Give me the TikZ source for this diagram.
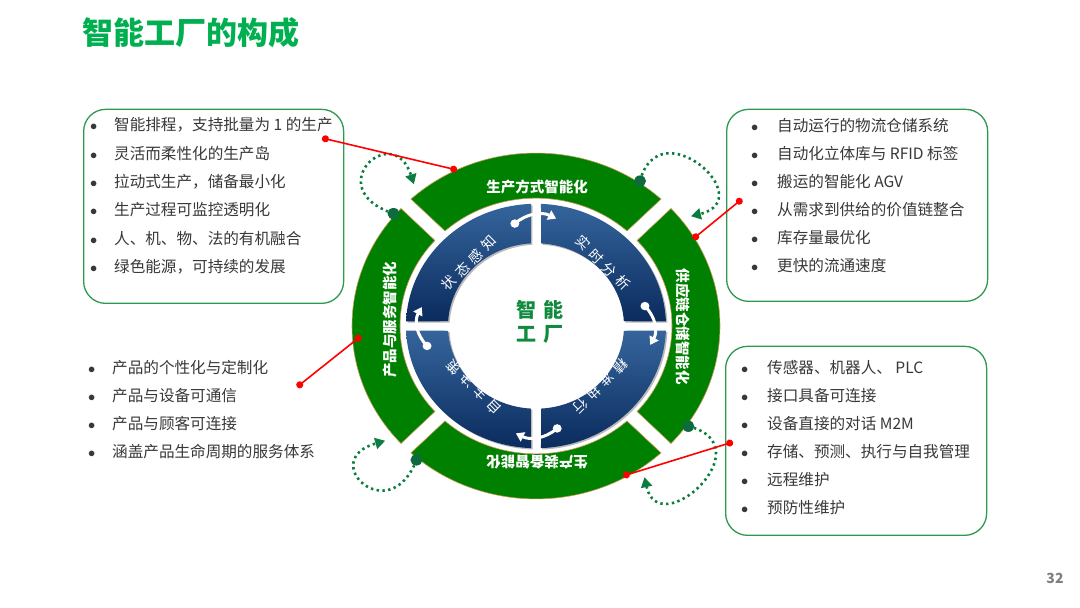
\documentclass[tikz,border=0pt]{standalone}
\usepackage{fontspec}
\setmainfont{Noto Sans CJK SC}
\usetikzlibrary{arrows.meta, calc}
\definecolor{titlegreen}{HTML}{00B050}
\definecolor{boxline}{HTML}{2E9950}
\definecolor{txtgray}{HTML}{383838}
\definecolor{ringgreen}{HTML}{008000}
\definecolor{ringedge}{HTML}{C89A5A}
\definecolor{bluetop}{HTML}{35659C}
\definecolor{bluebot}{HTML}{0A2B5E}
\definecolor{dotgreen}{HTML}{0B7D3E}
\definecolor{dotdark}{HTML}{0E6B40}
\definecolor{ctrgreen}{HTML}{108A3C}
\definecolor{pagegray}{HTML}{7F7F7F}
\newcommand\qsp{\hspace{5pt}}
\tikzset{
  card/.style    = {draw=boxline, line width=1.3pt, rounded corners=22pt,
                    anchor=south west, inner sep=0pt},
  item/.style    = {anchor=west, inner sep=0pt, text=txtgray,
                    font=\fontsize{15.6}{18}\selectfont},
  segtxt/.style  = {text=white, inner sep=0pt, font=\bfseries\fontsize{14.5}{16}\selectfont},
  quadtxt/.style = {text=white, inner sep=0pt, font=\fontsize{14}{16}\selectfont},
  cyc/.style     = {white, line width=3pt, -{Triangle[length=8pt, width=10pt]}},
  dotloop/.style = {dotgreen, line width=2.6pt, dash pattern=on 2.4pt off 3.4pt,
                    -{Triangle[length=10pt, width=11pt]}},
  redlink/.style = {red, line width=1.6pt, {Circle[length=7pt]}-{Circle[length=7pt]}},
}

\begin{document}
\begin{tikzpicture}[x=1pt, y=1pt]
\useasboundingbox[fill=white] (0,0) rectangle (1080,608);

% =========================================================================
% Titel
% =========================================================================
\node[anchor=west, inner sep=0pt, text=titlegreen,
      font=\bfseries\fontsize{31}{35}\selectfont] (title) at (82,575) {智能工厂的构成};

% =========================================================================
% Listen
% =========================================================================
\node[card, minimum width=260pt, minimum height=194pt] (tlbox) at (83,304) {};
\foreach \t [count=\i] in {智能排程，支持批量为 1 的生产, 灵活而柔性化的生产岛,
    拉动式生产，储备最小化, 生产过程可监控透明化, 人、机、物、法的有机融合,
    绿色能源，可持续的发展}
  \node[item] (tl\i) at (90, {483-28.3*(\i-1)}) {\makebox[24pt][l]{$\bullet$}\t};

\node[card, minimum width=261pt, minimum height=192pt] (trbox) at (726,306) {};
\foreach \t [count=\i] in {自动运行的物流仓储系统, 自动化立体库与 RFID 标签,
    搬运的智能化 AGV, 从需求到供给的价值链整合, 库存量最优化, 更快的流通速度}
  \node[item] (tr\i) at (751, {482-28*(\i-1)}) {\makebox[26pt][l]{$\bullet$}\t};

\node[card, minimum width=261pt, minimum height=189pt] (brbox) at (725,72) {};
\foreach \t [count=\i] in {传感器、机器人、 PLC, 接口具备可连接, 设备直接的对话 M2M,
    存储、预测、执行与自我管理, 远程维护, 预防性维护}
  \node[item] (br\i) at (741, {240-28*(\i-1)}) {\makebox[26pt][l]{$\bullet$}\t};

\foreach \t [count=\i] in {产品的个性化与定制化, 产品与设备可通信, 产品与顾客可连接,
    涵盖产品生命周期的服务体系}
  \node[item] (bl\i) at (88, {240-28*(\i-1)}) {\makebox[24pt][l]{$\bullet$}\t};

% =========================================================================
% Ring
% =========================================================================
\begin{scope}[shift={(536,282)}, yscale=0.94]
  % gruene Segmente
  \foreach \c in {90,0,-90,180}
    \draw[ringedge, line width=0.6pt, fill=ringgreen]
      ({\c-42.8}:184) arc[start angle={\c-42.8}, end angle={\c+42.8}, radius=184]
      -- ({\c+42}:136) arc[start angle={\c+42}, end angle={\c-42}, radius=136] -- cycle;
  % blaue Viertel mit Schatten
  \foreach \q in {45,135,225,315}{
    \fill[gray!55, xshift=1.5pt, yshift=-1.5pt]
      ({\q-42.8}:130) arc[start angle={\q-42.8}, end angle={\q+42.8}, radius=130]
      -- ({\q+41.7}:88) arc[start angle={\q+41.7}, end angle={\q-41.7}, radius=88] -- cycle;
    \shade[top color=bluetop, bottom color=bluebot]
      ({\q-42.8}:130) arc[start angle={\q-42.8}, end angle={\q+42.8}, radius=130]
      -- ({\q+41.7}:88) arc[start angle={\q+41.7}, end angle={\q-41.7}, radius=88] -- cycle;
  }
  % Kreislauf-Pfeile
  \foreach \c in {90,0,-90,180}{
    \fill[white] ({\c+11}:111) circle[radius=4.5];
    \draw[cyc] ({\c+11}:111) to[bend left=35] ({\c-10}:116);
  }
  % gepunktete Schleifen
  \foreach \s/\e in {140/129, 56/37, -35/-56, -130/-141}{
    \draw[dotloop] (\s:186) .. controls ({\s+6}:262) and ({\e-6}:262) .. (\e:194);
    \fill[dotdark] (\s:186) circle[radius=6];
  }
\end{scope}

\node[segtxt] (segtop) at (537,421) {生产方式智能化};
\node[segtxt, rotate=-90] (segright) at (683,281) {供应链仓储智能化};
\node[segtxt, rotate=180] (segbot) at (537,146) {生产装备智能化};
\node[segtxt, rotate=90] (segleft) at (390,288) {产品与服务智能化};

\node[quadtxt, rotate=45] (qsense) at (469,345) {状\qsp 态\qsp 感\qsp 知};
\node[quadtxt, rotate=-45] (qanalyze) at (603,345) {实\qsp 时\qsp 分\qsp 析};
\node[quadtxt, rotate=-135] (qexec) at (600,222) {精\qsp 准\qsp 执\qsp 行};
\node[quadtxt, rotate=135] (qdecide) at (474,221) {自\qsp 主\qsp 决\qsp 策};

\node[text=ctrgreen, align=center, inner sep=0pt,
      font=\bfseries\fontsize{20}{24}\selectfont] (core) at (540,286)
  {智\hspace{7pt}能\\工\hspace{7pt}厂};

% =========================================================================
% Verbindungen
% =========================================================================
\coordinate (r1a) at (322,470); \coordinate (r1b) at (457,438);
\coordinate (r2a) at (742,409); \coordinate (r2b) at (693,369);
\coordinate (r3a) at (297,221); \coordinate (r3b) at (361,272);
\coordinate (r4a) at (733,166); \coordinate (r4b) at (623,132);
\draw[redlink] (r1a) -- (r1b);
\draw[redlink] (r2a) -- (r2b);
\draw[redlink] (r3a) -- (r3b);
\draw[redlink] (r4a) -- (r4b);

\node[text=pagegray, inner sep=0pt, font=\bfseries\fontsize{14}{16}\selectfont] (pageno)
  at (1055,30) {32};

\end{tikzpicture}
\end{document}
